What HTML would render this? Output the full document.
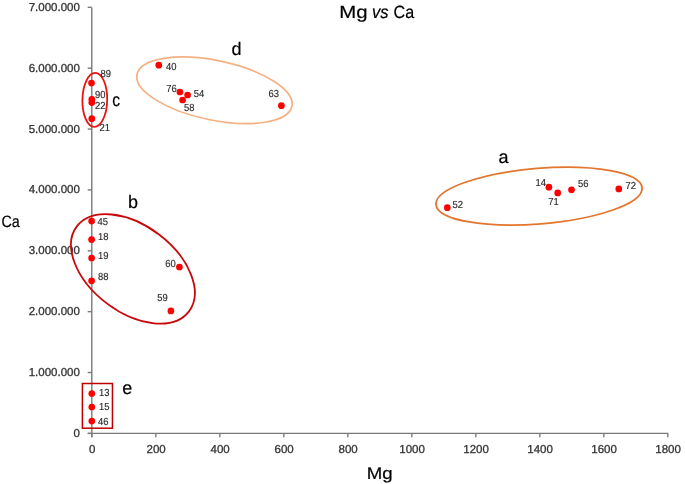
<!DOCTYPE html>
<html><head><meta charset="utf-8"><style>
html,body{margin:0;padding:0;background:#fff;}
body{width:685px;height:484px;overflow:hidden;}
svg{display:block;}
text{font-family:"Liberation Sans",sans-serif;text-rendering:geometricPrecision;}
.tl{font-size:11.5px;fill:#333;stroke:#333;stroke-width:0.3px;}
.dl{font-size:10.2px;fill:#2a2a2a;stroke:#2a2a2a;stroke-width:0.15px;}
.ttl{font-size:17.8px;fill:#000;stroke:#000;stroke-width:0.2px;}
.ax{font-size:16.5px;fill:#000;stroke:#000;stroke-width:0.2px;}
.cl{font-size:18px;fill:#000;stroke:#000;stroke-width:0.2px;}
</style></head><body>
<svg width="685" height="484" viewBox="0 0 685 484">
<rect width="685" height="484" fill="#fff"/>
<line x1="91.8" y1="7.4" x2="91.8" y2="437.3" stroke="#7a7a7a" stroke-width="1.4"/>
<line x1="87.7" y1="433.4" x2="668.3" y2="433.4" stroke="#7a7a7a" stroke-width="1.4"/>
<line x1="87.7" y1="433.40" x2="91.8" y2="433.40" stroke="#7a7a7a" stroke-width="1.4"/>
<text x="79.9" y="436.90" text-anchor="end" class="tl">0</text>
<line x1="87.7" y1="372.53" x2="91.8" y2="372.53" stroke="#7a7a7a" stroke-width="1.4"/>
<text x="79.9" y="376.03" text-anchor="end" class="tl">1.000.000</text>
<line x1="87.7" y1="311.66" x2="91.8" y2="311.66" stroke="#7a7a7a" stroke-width="1.4"/>
<text x="79.9" y="315.16" text-anchor="end" class="tl">2.000.000</text>
<line x1="87.7" y1="250.79" x2="91.8" y2="250.79" stroke="#7a7a7a" stroke-width="1.4"/>
<text x="79.9" y="254.29" text-anchor="end" class="tl">3.000.000</text>
<line x1="87.7" y1="189.92" x2="91.8" y2="189.92" stroke="#7a7a7a" stroke-width="1.4"/>
<text x="79.9" y="193.42" text-anchor="end" class="tl">4.000.000</text>
<line x1="87.7" y1="129.05" x2="91.8" y2="129.05" stroke="#7a7a7a" stroke-width="1.4"/>
<text x="79.9" y="132.55" text-anchor="end" class="tl">5.000.000</text>
<line x1="87.7" y1="68.18" x2="91.8" y2="68.18" stroke="#7a7a7a" stroke-width="1.4"/>
<text x="79.9" y="71.68" text-anchor="end" class="tl">6.000.000</text>
<line x1="87.7" y1="7.31" x2="91.8" y2="7.31" stroke="#7a7a7a" stroke-width="1.4"/>
<text x="79.9" y="10.81" text-anchor="end" class="tl">7.000.000</text>
<line x1="91.80" y1="433.4" x2="91.80" y2="437.3" stroke="#7a7a7a" stroke-width="1.4"/>
<text x="92.10" y="453.2" text-anchor="middle" class="tl">0</text>
<line x1="155.80" y1="433.4" x2="155.80" y2="437.3" stroke="#7a7a7a" stroke-width="1.4"/>
<text x="156.10" y="453.2" text-anchor="middle" class="tl">200</text>
<line x1="219.80" y1="433.4" x2="219.80" y2="437.3" stroke="#7a7a7a" stroke-width="1.4"/>
<text x="220.10" y="453.2" text-anchor="middle" class="tl">400</text>
<line x1="283.80" y1="433.4" x2="283.80" y2="437.3" stroke="#7a7a7a" stroke-width="1.4"/>
<text x="284.10" y="453.2" text-anchor="middle" class="tl">600</text>
<line x1="347.80" y1="433.4" x2="347.80" y2="437.3" stroke="#7a7a7a" stroke-width="1.4"/>
<text x="348.10" y="453.2" text-anchor="middle" class="tl">800</text>
<line x1="411.80" y1="433.4" x2="411.80" y2="437.3" stroke="#7a7a7a" stroke-width="1.4"/>
<text x="412.10" y="453.2" text-anchor="middle" class="tl">1000</text>
<line x1="475.80" y1="433.4" x2="475.80" y2="437.3" stroke="#7a7a7a" stroke-width="1.4"/>
<text x="476.10" y="453.2" text-anchor="middle" class="tl">1200</text>
<line x1="539.80" y1="433.4" x2="539.80" y2="437.3" stroke="#7a7a7a" stroke-width="1.4"/>
<text x="540.10" y="453.2" text-anchor="middle" class="tl">1400</text>
<line x1="603.80" y1="433.4" x2="603.80" y2="437.3" stroke="#7a7a7a" stroke-width="1.4"/>
<text x="604.10" y="453.2" text-anchor="middle" class="tl">1600</text>
<line x1="667.80" y1="433.4" x2="667.80" y2="437.3" stroke="#7a7a7a" stroke-width="1.4"/>
<text x="668.10" y="453.2" text-anchor="middle" class="tl">1800</text>
<text x="339.3" y="18.2" class="ttl" textLength="28.3" lengthAdjust="spacingAndGlyphs">Mg</text>
<text x="371.9" y="18.2" class="ttl" font-style="italic" textLength="16.6" lengthAdjust="spacingAndGlyphs">vs</text>
<text x="393.6" y="18.2" class="ttl" textLength="20.6" lengthAdjust="spacingAndGlyphs">Ca</text>
<text x="1.4" y="226.7" class="ax" textLength="18.3" lengthAdjust="spacingAndGlyphs">Ca</text>
<text x="366.7" y="478.5" class="ax" style="font-size:16.9px" textLength="25.9" lengthAdjust="spacingAndGlyphs">Mg</text>
<ellipse cx="214.45" cy="90.30" rx="79.05" ry="29.80" transform="rotate(11.66 214.45 90.30)" fill="none" stroke="#F4B183" stroke-width="1.7"/>
<ellipse cx="539.05" cy="196.15" rx="103.37" ry="27.78" transform="rotate(-4.67 539.05 196.15)" fill="none" stroke="#E3762E" stroke-width="1.8"/>
<ellipse cx="132.90" cy="268.90" rx="70.35" ry="43.25" transform="rotate(37.15 132.90 268.90)" fill="none" stroke="#C80808" stroke-width="1.8"/>
<ellipse cx="94.80" cy="99.90" rx="27.00" ry="12.39" transform="rotate(-88.87 94.80 99.90)" fill="none" stroke="#EA1414" stroke-width="1.8"/>
<rect x="82.4" y="383.5" width="30.05" height="44.7" fill="none" stroke="#C00000" stroke-width="1.5"/>
<circle cx="158.8" cy="65.2" r="3.35" fill="#FF0000"/>
<circle cx="179.9" cy="92.0" r="3.35" fill="#FF0000"/>
<circle cx="187.6" cy="95.0" r="3.35" fill="#FF0000"/>
<circle cx="182.6" cy="100.0" r="3.35" fill="#FF0000"/>
<circle cx="281.4" cy="105.7" r="3.35" fill="#FF0000"/>
<circle cx="447.3" cy="207.7" r="3.35" fill="#FF0000"/>
<circle cx="548.9" cy="187.2" r="3.35" fill="#FF0000"/>
<circle cx="557.7" cy="192.9" r="3.35" fill="#FF0000"/>
<circle cx="571.5" cy="189.8" r="3.35" fill="#FF0000"/>
<circle cx="618.8" cy="188.9" r="3.35" fill="#FF0000"/>
<circle cx="91.6" cy="221.1" r="3.35" fill="#FF0000"/>
<circle cx="91.6" cy="239.6" r="3.35" fill="#FF0000"/>
<circle cx="91.6" cy="258.0" r="3.35" fill="#FF0000"/>
<circle cx="91.6" cy="280.8" r="3.35" fill="#FF0000"/>
<circle cx="179.4" cy="267.0" r="3.35" fill="#FF0000"/>
<circle cx="170.9" cy="310.9" r="3.35" fill="#FF0000"/>
<circle cx="91.5" cy="83.0" r="3.35" fill="#FF0000"/>
<circle cx="91.8" cy="99.3" r="3.35" fill="#FF0000"/>
<circle cx="91.8" cy="102.6" r="3.35" fill="#FF0000"/>
<circle cx="91.8" cy="118.7" r="3.35" fill="#FF0000"/>
<circle cx="91.8" cy="393.5" r="3.35" fill="#FF0000"/>
<circle cx="91.8" cy="407.0" r="3.35" fill="#FF0000"/>
<circle cx="91.8" cy="421.1" r="3.35" fill="#FF0000"/>
<text x="166.0" y="70.15" class="dl" textLength="10.5" lengthAdjust="spacingAndGlyphs">40</text>
<text x="166.15" y="91.55" class="dl" textLength="10.5" lengthAdjust="spacingAndGlyphs">76</text>
<text x="193.8" y="97.05" class="dl" textLength="10.5" lengthAdjust="spacingAndGlyphs">54</text>
<text x="184.0" y="110.65" class="dl" textLength="10.5" lengthAdjust="spacingAndGlyphs">58</text>
<text x="268.5" y="97.2" class="dl" textLength="10.5" lengthAdjust="spacingAndGlyphs">63</text>
<text x="452.55" y="208.2" class="dl" textLength="10.5" lengthAdjust="spacingAndGlyphs">52</text>
<text x="535.55" y="185.8" class="dl" textLength="10.5" lengthAdjust="spacingAndGlyphs">14</text>
<text x="548.15" y="204.8" class="dl" textLength="10.5" lengthAdjust="spacingAndGlyphs">71</text>
<text x="577.95" y="187.25" class="dl" textLength="10.5" lengthAdjust="spacingAndGlyphs">56</text>
<text x="625.55" y="189.3" class="dl" textLength="10.5" lengthAdjust="spacingAndGlyphs">72</text>
<text x="97.6" y="225.35" class="dl" textLength="10.5" lengthAdjust="spacingAndGlyphs">45</text>
<text x="98.0" y="239.6" class="dl" textLength="10.5" lengthAdjust="spacingAndGlyphs">18</text>
<text x="98.0" y="258.5" class="dl" textLength="10.5" lengthAdjust="spacingAndGlyphs">19</text>
<text x="98.0" y="280.1" class="dl" textLength="10.5" lengthAdjust="spacingAndGlyphs">88</text>
<text x="165.3" y="266.8" class="dl" textLength="10.5" lengthAdjust="spacingAndGlyphs">60</text>
<text x="157.25" y="300.7" class="dl" textLength="10.5" lengthAdjust="spacingAndGlyphs">59</text>
<text x="100.4" y="76.75" class="dl" textLength="10.5" lengthAdjust="spacingAndGlyphs">89</text>
<text x="95.1" y="97.6" class="dl" textLength="10.5" lengthAdjust="spacingAndGlyphs">90</text>
<text x="95.0" y="109.2" class="dl" textLength="10.5" lengthAdjust="spacingAndGlyphs">22</text>
<text x="99.4" y="131.35" class="dl" textLength="10.5" lengthAdjust="spacingAndGlyphs">21</text>
<text x="98.95" y="395.65" class="dl" textLength="10.5" lengthAdjust="spacingAndGlyphs">13</text>
<text x="98.9" y="410.35" class="dl" textLength="10.5" lengthAdjust="spacingAndGlyphs">15</text>
<text x="98.1" y="424.7" class="dl" textLength="10.5" lengthAdjust="spacingAndGlyphs">46</text>
<text x="231.5" y="55.4" class="cl">d</text>
<text x="498.5" y="162.8" class="cl">a</text>
<text x="128.0" y="207.5" class="cl">b</text>
<text x="112.2" y="105.6" class="cl" textLength="7.8" lengthAdjust="spacingAndGlyphs">c</text>
<text x="122.2" y="393.5" class="cl">e</text>
</svg>
</body></html>
